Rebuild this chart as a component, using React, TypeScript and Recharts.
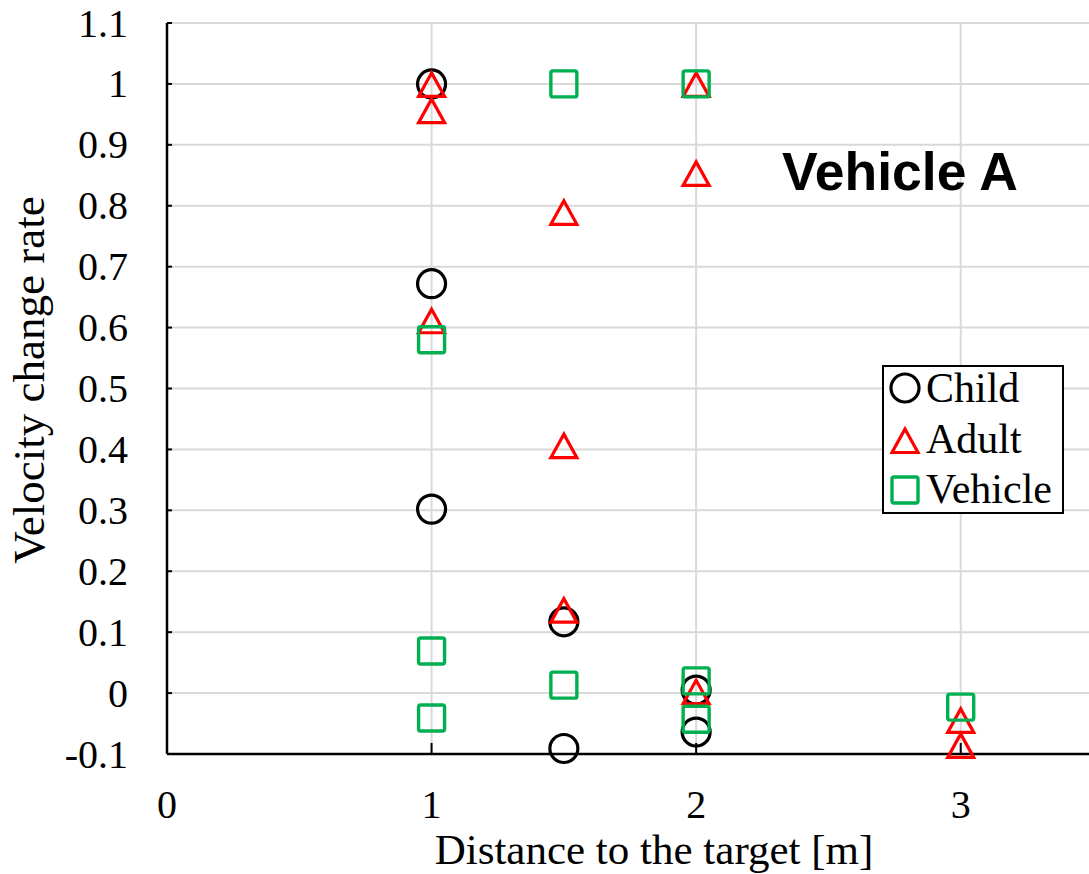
import {
  ScatterChart,
  Scatter,
  XAxis,
  YAxis,
  CartesianGrid,
  Legend,
  Label,
} from 'recharts';

const CHILD_X = [1, 1, 1, 1.5, 1.5, 2, 2];
const CHILD_Y = [1.0, 0.672, 0.302, 0.117, -0.091, 0.005, -0.064];

const ADULT_X = [1, 1, 1, 1.5, 1.5, 1.5, 2, 2, 2, 3, 3];
const ADULT_Y = [1.0, 0.957, 0.612, 0.79, 0.407, 0.137, 1.0, 0.854, 0.003, -0.044, -0.085];

const VEHICLE_X = [1, 1, 1, 1.5, 1.5, 2, 2, 2, 3];
const VEHICLE_Y = [0.58, 0.069, -0.041, 1.0, 0.013, 1.0, 0.02, -0.043, -0.023];

const X_TICKS = [0, 1, 2, 3];
const Y_TICKS = [-0.1, 0, 0.1, 0.2, 0.3, 0.4, 0.5, 0.6, 0.7, 0.8, 0.9, 1, 1.1];

const SERIF = '"Liberation Serif", "Times New Roman", serif';
const BLACK = '#000000';
const RED = '#ff0000';
const GREEN = '#00b050';

const toPoints = (xs: number[], ys: number[]) => xs.map((x, i) => ({ x, y: ys[i] }));

function CircleMark({ cx, cy }: { cx?: number; cy?: number }) {
  if (cx == null || cy == null) return null;
  return <circle cx={cx} cy={cy} r={14} fill="none" stroke={BLACK} strokeWidth={3.2} />;
}

function TriangleMark({ cx, cy }: { cx?: number; cy?: number }) {
  if (cx == null || cy == null) return null;
  const pts = `${cx},${cy - 11} ${cx - 13},${cy + 12.5} ${cx + 13},${cy + 12.5}`;
  return <polygon points={pts} fill="none" stroke={RED} strokeWidth={3.2} strokeLinejoin="miter" />;
}

function SquareMark({ cx, cy }: { cx?: number; cy?: number }) {
  if (cx == null || cy == null) return null;
  return (
    <rect x={cx - 13} y={cy - 13} width={26} height={26} rx={2} fill="none" stroke={GREEN} strokeWidth={3.4} />
  );
}

function XTick({ x, y, payload }: { x?: number; y?: number; payload?: { value: number } }) {
  return (
    <g>
      <line x1={x} x2={x} y1={y} y2={(y ?? 0) - 11} stroke={BLACK} strokeWidth={2} />
      <text x={x} y={(y ?? 0) + 64} textAnchor="middle" fontFamily={SERIF} fontSize={40} fill={BLACK}>
        {payload?.value}
      </text>
    </g>
  );
}

function YTick({ x, y, payload }: { x?: number; y?: number; payload?: { value: number } }) {
  return (
    <g>
      <line x1={x} x2={(x ?? 0) + 5} y1={y} y2={y} stroke={BLACK} strokeWidth={2} />
      <text x={(x ?? 0) - 39} y={(y ?? 0) + 13.5} textAnchor="end" fontFamily={SERIF} fontSize={40} fill={BLACK}>
        {String(payload?.value)}
      </text>
    </g>
  );
}

function LegendBox() {
  return (
    <svg width={182} height={149} style={{ display: 'block' }}>
      <rect x={1} y={1} width={180} height={147} fill="#ffffff" stroke={BLACK} strokeWidth={2} />
      <CircleMark cx={23} cy={23} />
      <text x={44} y={37} fontFamily={SERIF} fontSize={42} fill={BLACK}>Child</text>
      <TriangleMark cx={23} cy={75} />
      <text x={44} y={88} fontFamily={SERIF} fontSize={42} fill={BLACK}>Adult</text>
      <SquareMark cx={23} cy={125} />
      <text x={44} y={138} fontFamily={SERIF} fontSize={42} fill={BLACK}>Vehicle</text>
    </svg>
  );
}

export default function App() {
  const child = toPoints(CHILD_X, CHILD_Y);
  const adult = toPoints(ADULT_X, ADULT_Y);
  const vehicle = toPoints(VEHICLE_X, VEHICLE_Y);

  return (
    <div
      style={{
        position: 'absolute',
        left: 0,
        top: 0,
        width: 1089,
        height: 874,
        overflow: 'hidden',
        background: '#ffffff',
      }}
    >
      <ScatterChart width={1093} height={874} margin={{ top: 23, right: 0, bottom: 0, left: 0 }}>
        <CartesianGrid stroke="#d9d9d9" strokeWidth={2} />
        <XAxis
          type="number"
          dataKey="x"
          domain={[0, 3.5]}
          ticks={X_TICKS}
          height={120}
          axisLine={{ stroke: BLACK, strokeWidth: 2.5 }}
          tickLine={false}
          tickSize={0}
          tickMargin={0}
          tick={<XTick />}
        >
          <Label
            content={() => (
              <text x={654} y={864} textAnchor="middle" fontFamily={SERIF} fontSize={43} fill={BLACK}>
                Distance to the target [m]
              </text>
            )}
          />
        </XAxis>
        <YAxis
          type="number"
          dataKey="y"
          domain={[-0.1, 1.1]}
          ticks={Y_TICKS}
          width={167}
          axisLine={{ stroke: BLACK, strokeWidth: 2.5 }}
          tickLine={false}
          tickSize={0}
          tickMargin={0}
          tick={<YTick />}
        >
          <Label
            content={() => (
              <text
                x={44}
                y={380}
                transform="rotate(-90 44 380)"
                textAnchor="middle"
                fontFamily={SERIF}
                fontSize={45}
                fill={BLACK}
              >
                Velocity change rate
              </text>
            )}
          />
        </YAxis>
        <Legend
          layout="horizontal"
          verticalAlign="middle"
          align="center"
          wrapperStyle={{ left: 882, top: 365, width: 182, height: 149 }}
          content={() => <LegendBox />}
        />
        <Scatter name="Child" data={child} shape={<CircleMark />} isAnimationActive={false} />
        <Scatter name="Adult" data={adult} shape={<TriangleMark />} isAnimationActive={false} />
        <Scatter name="Vehicle" data={vehicle} shape={<SquareMark />} isAnimationActive={false} />
      </ScatterChart>
      <svg
        width={1089}
        height={874}
        style={{ position: 'absolute', left: 0, top: 0, pointerEvents: 'none' }}
      >
        <text
          x={782}
          y={190}
          fontFamily='"Liberation Sans", Arial, sans-serif'
          fontWeight="bold"
          fontSize={53.5}
          fill={BLACK}
        >
          Vehicle A
        </text>
      </svg>
    </div>
  );
}
